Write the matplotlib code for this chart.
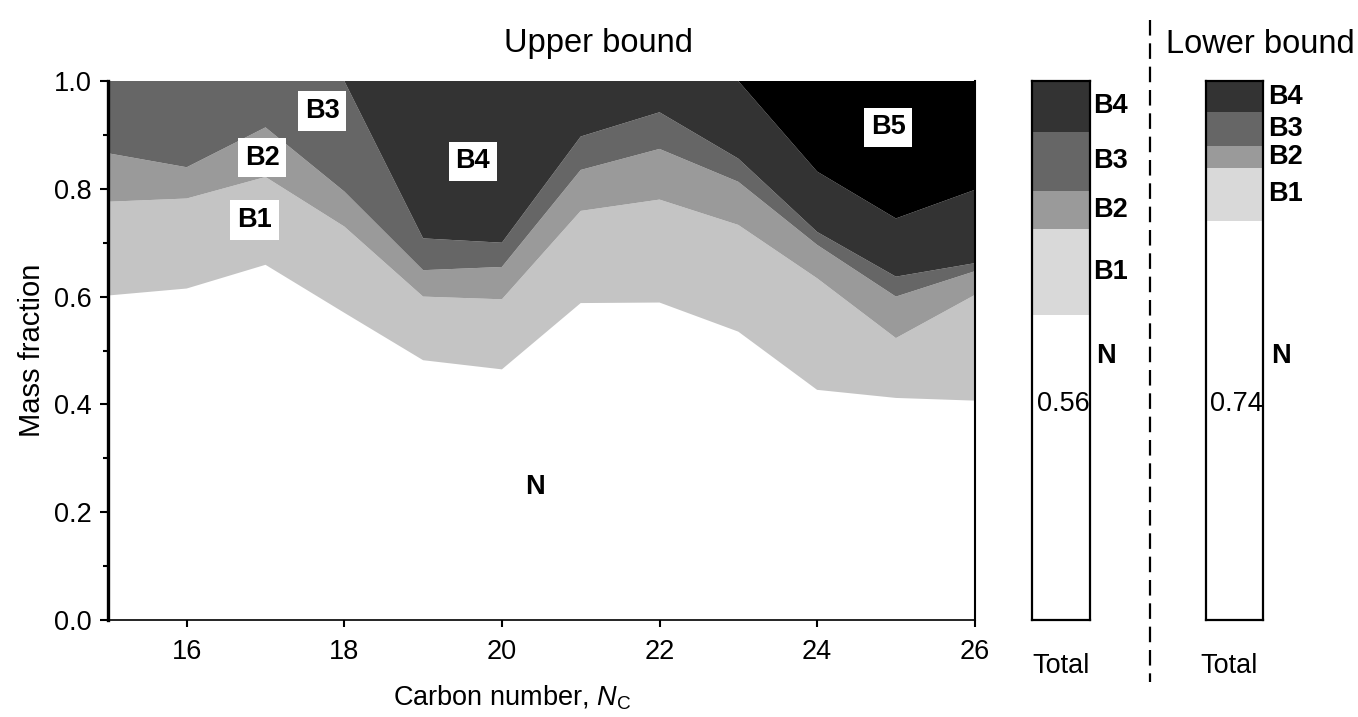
import matplotlib
matplotlib.use("Agg")
import matplotlib.pyplot as plt
import matplotlib.transforms as mtransforms
from matplotlib.lines import Line2D

plt.rcParams['font.family'] = ['Liberation Sans', 'DejaVu Sans']
plt.rcParams['mathtext.fontset'] = 'custom'
plt.rcParams['mathtext.rm'] = 'Liberation Sans'
plt.rcParams['mathtext.it'] = 'Liberation Sans:italic'

# ---------------- data ----------------
carbon = [15, 16, 17, 18, 19, 20, 21, 22, 23, 24, 25, 26]
frac_N  = [0.602, 0.615, 0.659, 0.570, 0.482, 0.465, 0.588, 0.589, 0.535, 0.427, 0.412, 0.407]
frac_B1 = [0.174, 0.167, 0.163, 0.160, 0.118, 0.130, 0.171, 0.191, 0.198, 0.207, 0.111, 0.196]
frac_B2 = [0.090, 0.058, 0.092, 0.065, 0.049, 0.060, 0.076, 0.094, 0.080, 0.062, 0.077, 0.044]
frac_B3 = [0.134, 0.160, 0.086, 0.205, 0.059, 0.045, 0.062, 0.068, 0.043, 0.024, 0.037, 0.015]
frac_B4 = [0.000, 0.000, 0.000, 0.000, 0.292, 0.300, 0.103, 0.058, 0.144, 0.112, 0.108, 0.136]
frac_B5 = [0.000, 0.000, 0.000, 0.000, 0.000, 0.000, 0.000, 0.000, 0.000, 0.168, 0.255, 0.202]

bar_classes = ['N', 'B1', 'B2', 'B3', 'B4']
upper_total = [0.566, 0.159, 0.071, 0.110, 0.094]
lower_total = [0.741, 0.098, 0.041, 0.062, 0.058]
upper_N_label = '0.56'
lower_N_label = '0.74'

xticks = [16, 18, 20, 22, 24, 26]
yticks = [0.0, 0.2, 0.4, 0.6, 0.8, 1.0]

# ---------------- styles ----------------
area_colors = ['#ffffff', '#c4c4c4', '#9a9a9a', '#666666', '#333333', '#000000']
bar_colors = ['#ffffff', '#d9d9d9', '#9a9a9a', '#666666', '#333333']
FS = 19.5

W, H = 1358, 717
fig = plt.figure(figsize=(W / 100, H / 100), dpi=100)

def px_axes(x0, x1, y0, y1):
    return fig.add_axes([x0 / W, (H - y1) / H, (x1 - x0) / W, (y1 - y0) / H])

ax = px_axes(107.9, 974.7, 81, 620)
ax.stackplot(carbon, frac_N, frac_B1, frac_B2, frac_B3, frac_B4, frac_B5,
             colors=area_colors, linewidth=0, antialiased=True)
ax.set_xlim(15, 26)
ax.set_ylim(0, 1)
ax.set_xticks(xticks)
ax.set_yticks(yticks)
ax.set_yticklabels([f'{v:.1f}' for v in yticks])
ax.set_yticks([0.1, 0.3, 0.5, 0.7, 0.9], minor=True)
ax.tick_params(axis='both', labelsize=FS, direction='out', width=1.5)
ax.tick_params(axis='y', which='major', length=6, pad=5.5)
ax.tick_params(axis='y', which='minor', length=3.5, width=1.5)
ax.tick_params(axis='x', which='major', length=5, pad=8.5)
ax.spines['top'].set_visible(False)
ax.spines['left'].set_linewidth(2.4)
ax.spines['bottom'].set_linewidth(1.2)
ax.spines['right'].set_linewidth(1.5)
for s in ax.spines.values():
    s.set_zorder(5)
ax.set_ylabel('Mass fraction', fontsize=21, labelpad=6)

box = dict(boxstyle='square,pad=0.25', fc='white', ec='none')
labels_main = [('B3', 17.72, 0.944), ('B2', 16.96, 0.858), ('B1', 16.86, 0.742),
               ('B4', 19.63, 0.851), ('B5', 24.90, 0.914)]
for t, x, y in labels_main:
    ax.text(x, y, t, ha='center', va='center', fontsize=FS, fontweight='bold', bbox=box, zorder=6)
ax.text(20.42, 0.247, 'N', ha='center', va='center', fontsize=FS, fontweight='bold', zorder=6)

fig.text(512 / W, (H - 706) / H, 'Carbon number, $\\mathit{N}_\\mathrm{C}$', ha='center',
         va='baseline', fontsize=FS)
fig.text(599 / W, (H - 52) / H, 'Upper bound', ha='center', va='baseline', fontsize=23.5)
fig.text(1166 / W, (H - 53) / H, 'Lower bound', ha='left', va='baseline', fontsize=23.5)

def total_bar(x0, x1, values, nlabel, label_dx, nlabel_x, total_x):
    bx = px_axes(x0, x1, 81, 620)
    bottom = 0.0
    trans = mtransforms.blended_transform_factory(bx.transAxes, bx.transData)
    for name, v, c in zip(bar_classes, values, bar_colors):
        bx.bar(0, v, bottom=bottom, width=1.0, color=c, linewidth=0)
        if name != 'N':
            bx.text(1.0 + label_dx, bottom + v / 2, name, transform=trans, ha='left', va='center',
                    fontsize=FS, fontweight='bold', clip_on=False)
        bottom += v
    bx.text(1.0 + label_dx + 0.05, 0.49, 'N', transform=trans, ha='left', va='center',
            fontsize=FS, fontweight='bold', clip_on=False)
    bx.text(nlabel_x, 0.40, nlabel, transform=trans, ha='center', va='center', fontsize=FS,
            clip_on=False, zorder=6)
    bx.text(total_x, -0.085, 'Total', transform=bx.transAxes, ha='center', va='center',
            fontsize=FS, clip_on=False)
    bx.set_xlim(-0.5, 0.5)
    bx.set_ylim(0, 1)
    bx.set_xticks([])
    bx.set_yticks([])
    for s in bx.spines.values():
        s.set_linewidth(1.6)
        s.set_zorder(5)
    return bx

total_bar(1032, 1090, upper_total, upper_N_label, 0.05, 0.54, 0.5)
total_bar(1206, 1263, lower_total, lower_N_label, 0.09, 0.54, 0.40)

fig.add_artist(Line2D([1150 / W, 1150 / W], [(H - 20) / H, (H - 682) / H], color='black',
                      lw=1.6, linestyle=(0, (7, 3.5))))

fig.savefig('out.png', dpi=100)
